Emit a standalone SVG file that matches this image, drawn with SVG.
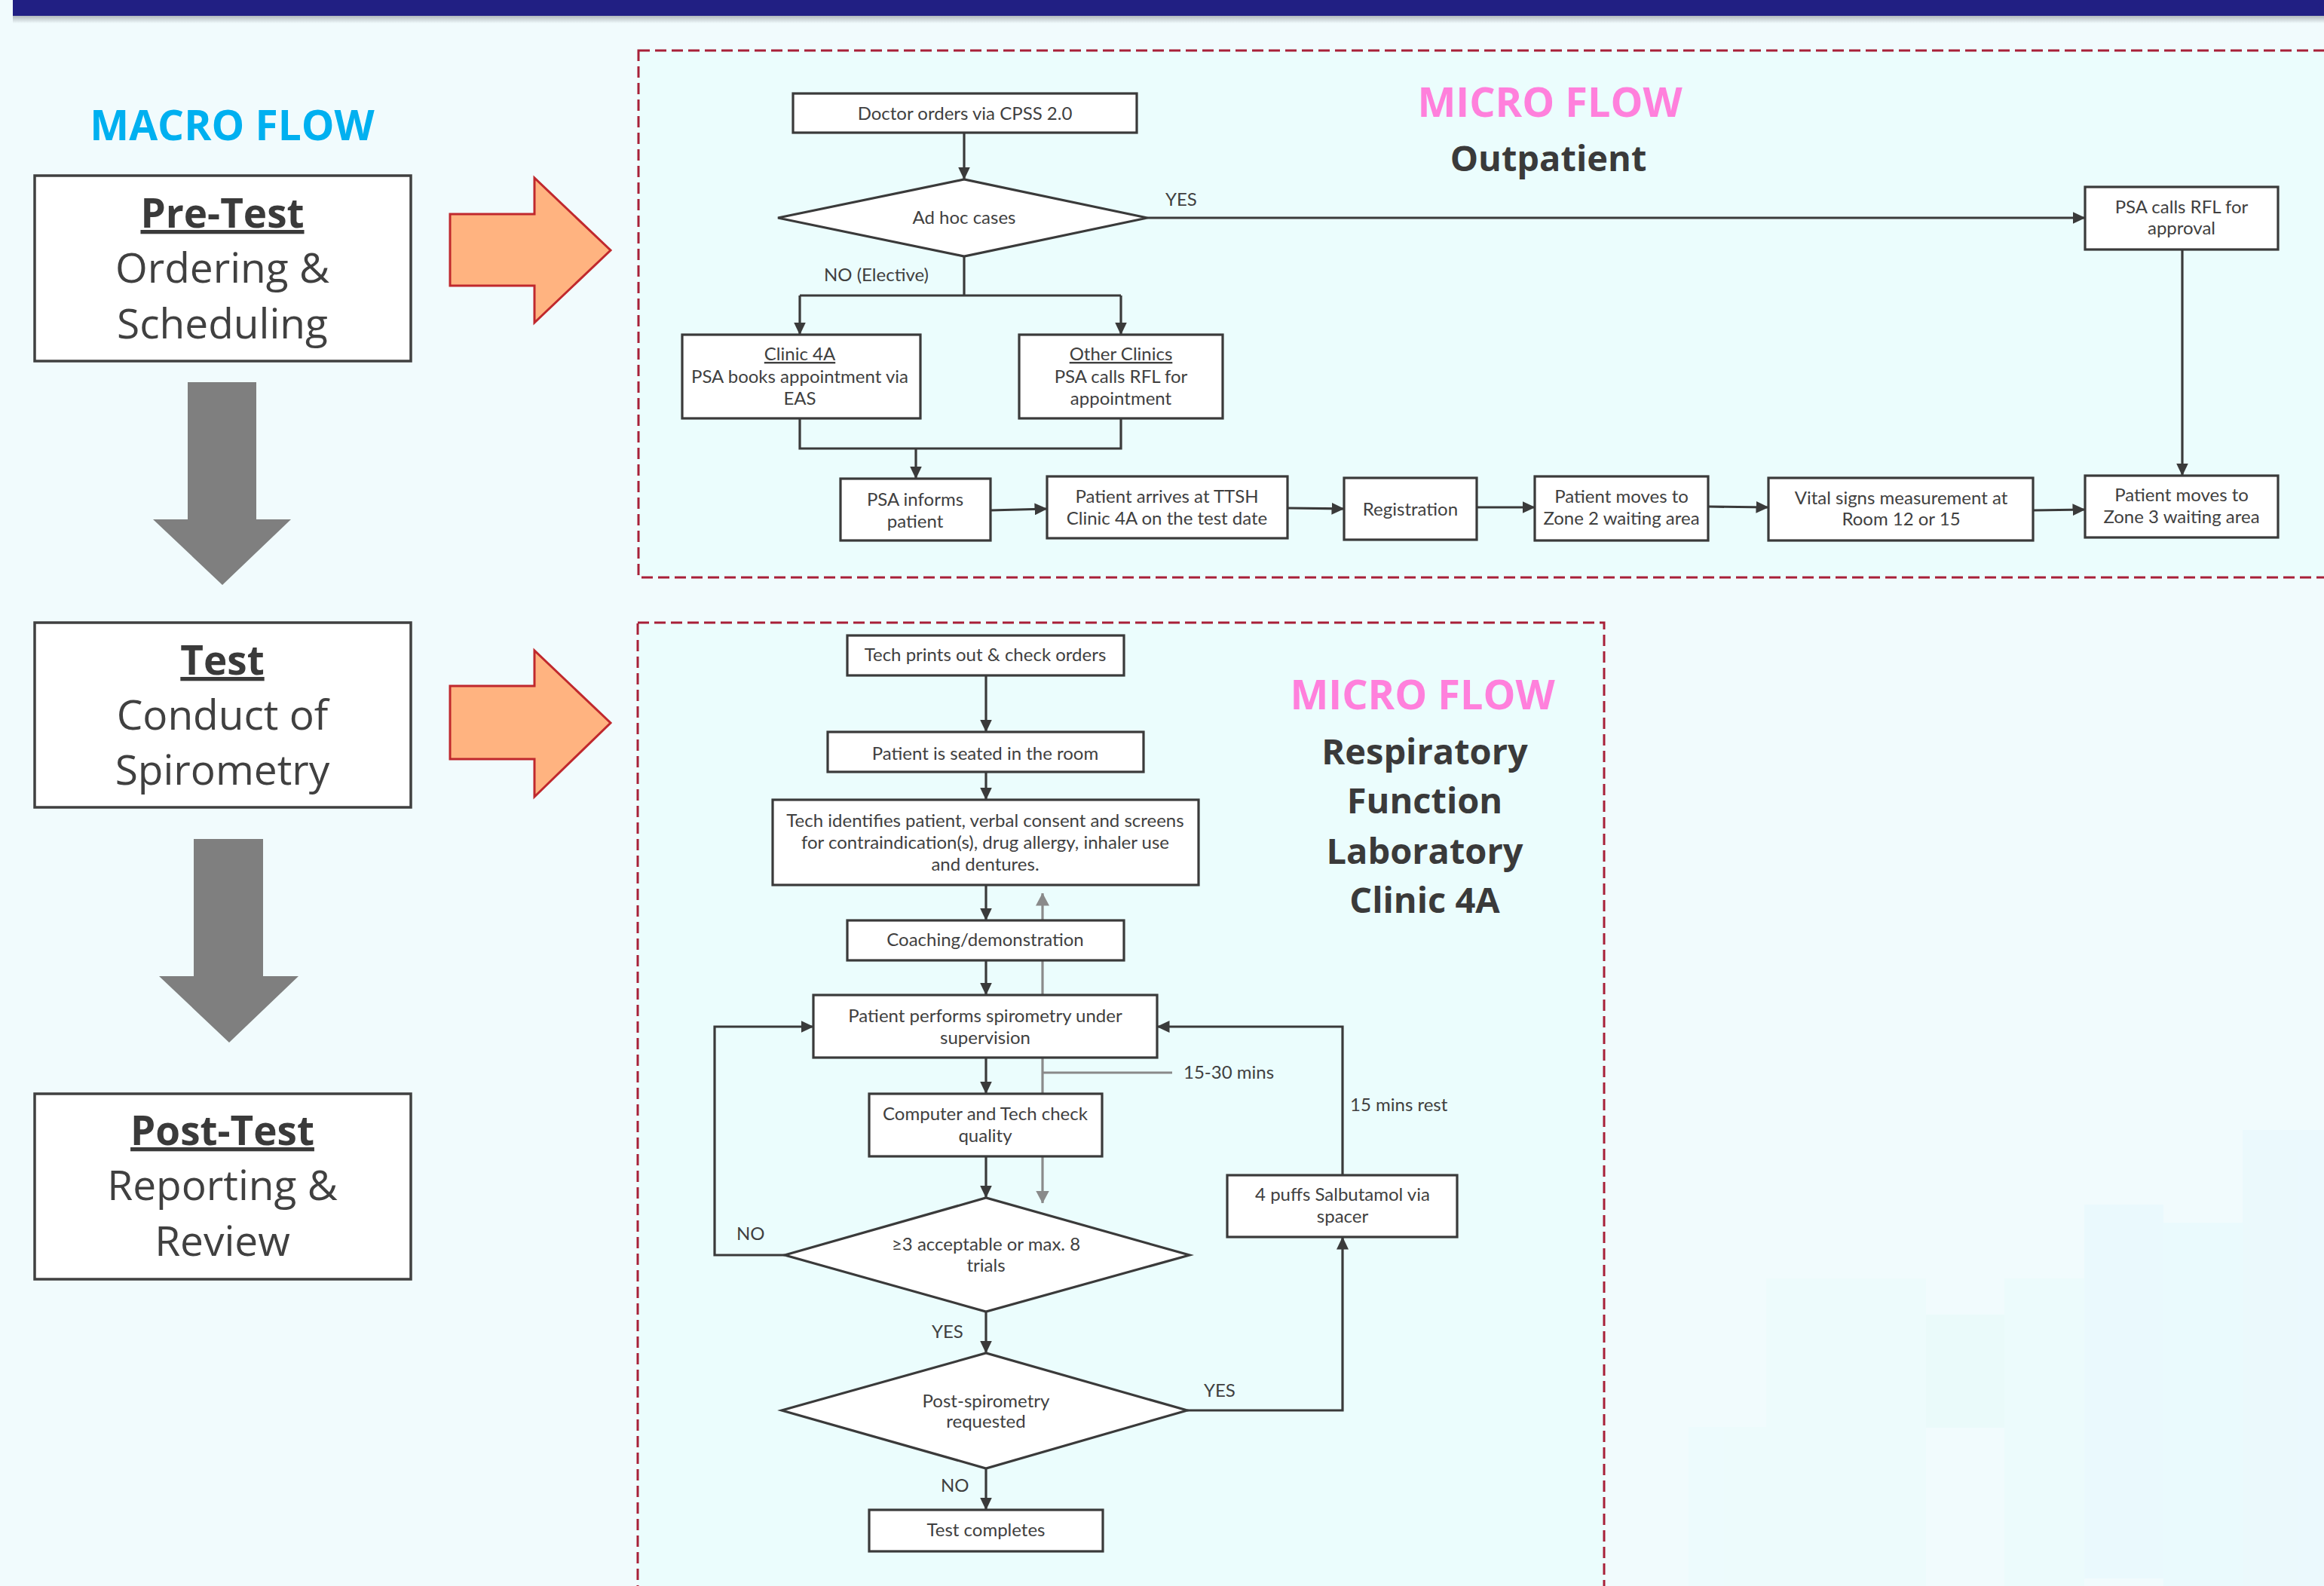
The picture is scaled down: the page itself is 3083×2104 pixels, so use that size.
<svg xmlns="http://www.w3.org/2000/svg" width="3083" height="2104" viewBox="0 0 3083 2104">
<defs>
<marker id="ah" viewBox="0 0 17 16" refX="16.5" refY="8" markerWidth="17" markerHeight="16" markerUnits="userSpaceOnUse" orient="auto">
<path d="M0,0 L17,8 L0,16 Z" fill="#3a3a3a"/>
</marker>
<marker id="ahg" viewBox="0 0 17 18" refX="16.5" refY="9" markerWidth="17" markerHeight="18" markerUnits="userSpaceOnUse" orient="auto-start-reverse">
<path d="M0,0 L17,9 L0,18 Z" fill="#8a8a8a"/>
</marker>
<linearGradient id="shadow" x1="0" y1="0" x2="0" y2="1">
<stop offset="0" stop-color="#7a7f86" stop-opacity="0.55"/>
<stop offset="1" stop-color="#7a7f86" stop-opacity="0"/>
</linearGradient>
</defs>
<style>
.box{fill:#ffffff;stroke:#3a3a3a;stroke-width:3.2}
.mbox{fill:#ffffff;stroke:#404040;stroke-width:3.5}
.t{font-family:Lato,"Liberation Sans",sans-serif;font-size:24px;fill:#404040;text-anchor:middle}
.lbl{font-family:Lato,"Liberation Sans",sans-serif;font-size:24px;fill:#404040}
.c{fill:none;stroke:#3a3a3a;stroke-width:3.2}
.g{fill:none;stroke:#8a8a8a;stroke-width:3.2}
.mh{font-family:"Open Sans","Liberation Sans",sans-serif;font-weight:bold;font-size:53px;fill:#3a3a3a;text-anchor:middle;text-decoration:underline}
.mt{font-family:"Open Sans","Liberation Sans",sans-serif;font-size:55px;fill:#404040;text-anchor:middle}
.micro{font-family:"Open Sans","Liberation Sans",sans-serif;font-weight:bold;font-size:54px;fill:#ff80dc;text-anchor:middle}
.sub{font-family:"Open Sans","Liberation Sans",sans-serif;font-weight:bold;font-size:47px;fill:#3a3a3a;text-anchor:middle}
.dash{fill:#ebfdfd;stroke:#a82038;stroke-width:3;stroke-dasharray:15 7}
.orange{fill:#ffb380;stroke:#c0282d;stroke-width:3}
.grey{fill:#7f7f7f}
</style>
<rect x="0" y="0" width="3083" height="2104" fill="#f1fbfd"/>
<g id="bg-deco" opacity="0.4">
<rect x="2343" y="1696" width="212" height="408" fill="#e8fcfb"/>
<rect x="2555" y="1744" width="104" height="150" fill="#e0faf6"/>
<rect x="2659" y="1696" width="106" height="408" fill="#e6fdfb"/>
<rect x="2765" y="1598" width="105" height="496" fill="#e2f8fd"/>
<rect x="2870" y="1622" width="105" height="482" fill="#e2f9fd"/>
<rect x="2975" y="1499" width="108" height="605" fill="#e3f8fc"/>
<rect x="2240" y="1893" width="103" height="211" fill="#e9fcfc"/>
</g>
<rect x="17" y="21" width="3066" height="10" fill="url(#shadow)"/>
<rect x="17" y="0" width="3066" height="21" fill="#211f83"/>

<rect class="dash" x="847" y="67" width="2300" height="699"/>
<rect class="dash" x="846" y="826" width="1282" height="1300"/>

<g id="macro-title"><text x="308" y="186" font-family="Open Sans,Liberation Sans,sans-serif" font-weight="bold" font-size="55" fill="#00b0f0" text-anchor="middle">MACRO FLOW</text></g>

<g id="pretest">
<rect class="mbox" x="46" y="233" width="499" height="246"/>
<text class="mh" x="295" y="302">Pre-Test</text>
<text class="mt" x="295" y="375">Ordering &amp;</text>
<text class="mt" x="295" y="449">Scheduling</text>
</g>
<g id="test">
<rect class="mbox" x="46" y="826" width="499" height="245"/>
<text class="mh" x="295" y="895">Test</text>
<text class="mt" x="295" y="968">Conduct of</text>
<text class="mt" x="295" y="1041">Spirometry</text>
</g>
<g id="posttest">
<rect class="mbox" x="46" y="1451" width="499" height="246"/>
<text class="mh" x="295" y="1519">Post-Test</text>
<text class="mt" x="295" y="1592">Reporting &amp;</text>
<text class="mt" x="295" y="1666">Review</text>
</g>
<g id="macro-arrows">
<path class="grey" d="M249,507 L340,507 L340,689 L386,689 L295,776 L203,689 L249,689 Z"/>
<path class="grey" d="M257,1113 L349,1113 L349,1295 L396,1295 L304,1383 L211,1295 L257,1295 Z"/>
<path class="orange" d="M597,284 L709,284 L709,236 L810,332 L709,428 L709,379 L597,379 Z"/>
<path class="orange" d="M597,910 L709,910 L709,863 L810,959 L709,1057 L709,1007 L597,1007 Z"/>
</g>

<g id="outpatient-title">
<text class="micro" x="2056" y="155">MICRO FLOW</text>
<text class="sub" x="2054" y="227">Outpatient</text>
</g>

<g id="connectors">
<line class="c" x1="1279" y1="176" x2="1279" y2="238" marker-end="url(#ah)"/>
<line class="c" x1="1522" y1="289" x2="2766" y2="289" marker-end="url(#ah)"/>
<polyline class="c" points="1279,340 1279,392"/>
<polyline class="c" points="1061,392 1487,392"/>
<line class="c" x1="1061" y1="392" x2="1061" y2="444" marker-end="url(#ah)"/>
<line class="c" x1="1487" y1="392" x2="1487" y2="444" marker-end="url(#ah)"/>
<polyline class="c" points="1061,555 1061,595 1487,595 1487,555"/>
<line class="c" x1="1215" y1="595" x2="1215" y2="635" marker-end="url(#ah)"/>
<line class="c" x1="1314" y1="677" x2="1389" y2="675" marker-end="url(#ah)"/>
<line class="c" x1="1708" y1="674" x2="1783" y2="675" marker-end="url(#ah)"/>
<line class="c" x1="1959" y1="673" x2="2036" y2="673" marker-end="url(#ah)"/>
<line class="c" x1="2266" y1="672" x2="2346" y2="673" marker-end="url(#ah)"/>
<line class="c" x1="2697" y1="677" x2="2766" y2="676" marker-end="url(#ah)"/>
<line class="c" x1="2895" y1="331" x2="2895" y2="631" marker-end="url(#ah)"/>

<line class="g" x1="1383" y1="1596" x2="1383" y2="1185" marker-start="url(#ahg)" marker-end="url(#ahg)"/>
<line class="g" x1="1383" y1="1423" x2="1555" y2="1423"/>

<line class="c" x1="1308" y1="896" x2="1308" y2="971" marker-end="url(#ah)"/>
<line class="c" x1="1308" y1="1024" x2="1308" y2="1061" marker-end="url(#ah)"/>
<line class="c" x1="1308" y1="1174" x2="1308" y2="1221" marker-end="url(#ah)"/>
<line class="c" x1="1308" y1="1274" x2="1308" y2="1320" marker-end="url(#ah)"/>
<line class="c" x1="1308" y1="1403" x2="1308" y2="1451" marker-end="url(#ah)"/>
<line class="c" x1="1308" y1="1534" x2="1308" y2="1589" marker-end="url(#ah)"/>
<line class="c" x1="1308" y1="1740" x2="1308" y2="1795" marker-end="url(#ah)"/>
<line class="c" x1="1308" y1="1948" x2="1308" y2="2003" marker-end="url(#ah)"/>
<polyline class="c" points="1041,1665 948,1665 948,1362 1079,1362" marker-end="url(#ah)"/>
<polyline class="c" points="1575,1871 1781,1871 1781,1641" marker-end="url(#ah)"/>
<polyline class="c" points="1781,1559 1781,1362 1535,1362" marker-end="url(#ah)"/>

<text class="lbl" x="1546" y="273">YES</text>
<text class="lbl" x="1093" y="373">NO (Elective)</text>
<text class="lbl" x="1570" y="1431">15-30 mins</text>
<text class="lbl" x="1791" y="1474">15 mins rest</text>
<text class="lbl" x="977" y="1645">NO</text>
<text class="lbl" x="1236" y="1775">YES</text>
<text class="lbl" x="1597" y="1853">YES</text>
<text class="lbl" x="1248" y="1979">NO</text>
</g>

<g id="doctor"><rect class="box" x="1052" y="124" width="456" height="52"/><text class="t" x="1280" y="159">Doctor orders via CPSS 2.0</text></g>
<g id="adhoc"><polygon class="box" points="1032,289 1279,238 1522,289 1279,340"/><text class="t" x="1279" y="297">Ad hoc cases</text></g>
<g id="approval"><rect class="box" x="2766" y="248" width="256" height="83"/><text class="t" x="2894" y="283">PSA calls RFL for</text><text class="t" x="2894" y="311">approval</text></g>
<g id="clinic4a"><rect class="box" x="905" y="444" width="316" height="111"/><text class="t" x="1061" y="478" text-decoration="underline">Clinic 4A</text><text class="t" x="1061" y="508">PSA books appointment via</text><text class="t" x="1061" y="537">EAS</text></g>
<g id="otherclinics"><rect class="box" x="1352" y="444" width="270" height="111"/><text class="t" x="1487" y="478" text-decoration="underline">Other Clinics</text><text class="t" x="1487" y="508">PSA calls RFL for</text><text class="t" x="1487" y="537">appointment</text></g>
<g id="psainforms"><rect class="box" x="1115" y="635" width="199" height="82"/><text class="t" x="1214" y="671">PSA informs</text><text class="t" x="1214" y="700">patient</text></g>
<g id="arrives"><rect class="box" x="1389" y="632" width="319" height="82"/><text class="t" x="1548" y="667">Patient arrives at TTSH</text><text class="t" x="1548" y="696">Clinic 4A on the test date</text></g>
<g id="registration"><rect class="box" x="1783" y="634" width="176" height="82"/><text class="t" x="1871" y="684">Registration</text></g>
<g id="zone2"><rect class="box" x="2036" y="632" width="230" height="85"/><text class="t" x="2151" y="667">Patient moves to</text><text class="t" x="2151" y="696">Zone 2 waiting area</text></g>
<g id="vitals"><rect class="box" x="2346" y="634" width="351" height="83"/><text class="t" x="2522" y="669">Vital signs measurement at</text><text class="t" x="2522" y="697">Room 12 or 15</text></g>
<g id="zone3"><rect class="box" x="2766" y="631" width="256" height="82"/><text class="t" x="2894" y="665">Patient moves to</text><text class="t" x="2894" y="694">Zone 3 waiting area</text></g>

<g id="rfl-title">
<text class="micro" x="1887" y="941">MICRO FLOW</text>
<text class="sub" x="1890" y="1014">Respiratory</text>
<text class="sub" x="1890" y="1079">Function</text>
<text class="sub" x="1890" y="1146">Laboratory</text>
<text class="sub" x="1890" y="1211">Clinic 4A</text>
</g>

<g id="techprints"><rect class="box" x="1124" y="843" width="367" height="53"/><text class="t" x="1307" y="877">Tech prints out &amp; check orders</text></g>
<g id="seated"><rect class="box" x="1098" y="971" width="419" height="53"/><text class="t" x="1307" y="1008">Patient is seated in the room</text></g>
<g id="identifies"><rect class="box" x="1025" y="1061" width="565" height="113"/><text class="t" x="1307" y="1097">Tech identifies patient, verbal consent and screens</text><text class="t" x="1307" y="1126">for contraindication(s), drug allergy, inhaler use</text><text class="t" x="1307" y="1155">and dentures.</text></g>
<g id="coaching"><rect class="box" x="1124" y="1221" width="367" height="53"/><text class="t" x="1307" y="1255">Coaching/demonstration</text></g>
<g id="performs"><rect class="box" x="1079" y="1320" width="456" height="83"/><text class="t" x="1307" y="1356">Patient performs spirometry under</text><text class="t" x="1307" y="1385">supervision</text></g>
<g id="computer"><rect class="box" x="1153" y="1451" width="309" height="83"/><text class="t" x="1307" y="1486">Computer and Tech check</text><text class="t" x="1307" y="1515">quality</text></g>
<g id="acceptable"><polygon class="box" points="1041,1665 1308,1589 1578,1665 1308,1740"/><text class="t" x="1308" y="1659">≥3 acceptable or max. 8</text><text class="t" x="1308" y="1687">trials</text></g>
<g id="postspiro"><polygon class="box" points="1037,1871 1308,1795 1575,1871 1308,1948"/><text class="t" x="1308" y="1867">Post-spirometry</text><text class="t" x="1308" y="1894">requested</text></g>
<g id="salbutamol"><rect class="box" x="1628" y="1559" width="305" height="82"/><text class="t" x="1781" y="1593">4 puffs Salbutamol via</text><text class="t" x="1781" y="1622">spacer</text></g>
<g id="testcompletes"><rect class="box" x="1153" y="2003" width="310" height="55"/><text class="t" x="1308" y="2038">Test completes</text></g>
</svg>
